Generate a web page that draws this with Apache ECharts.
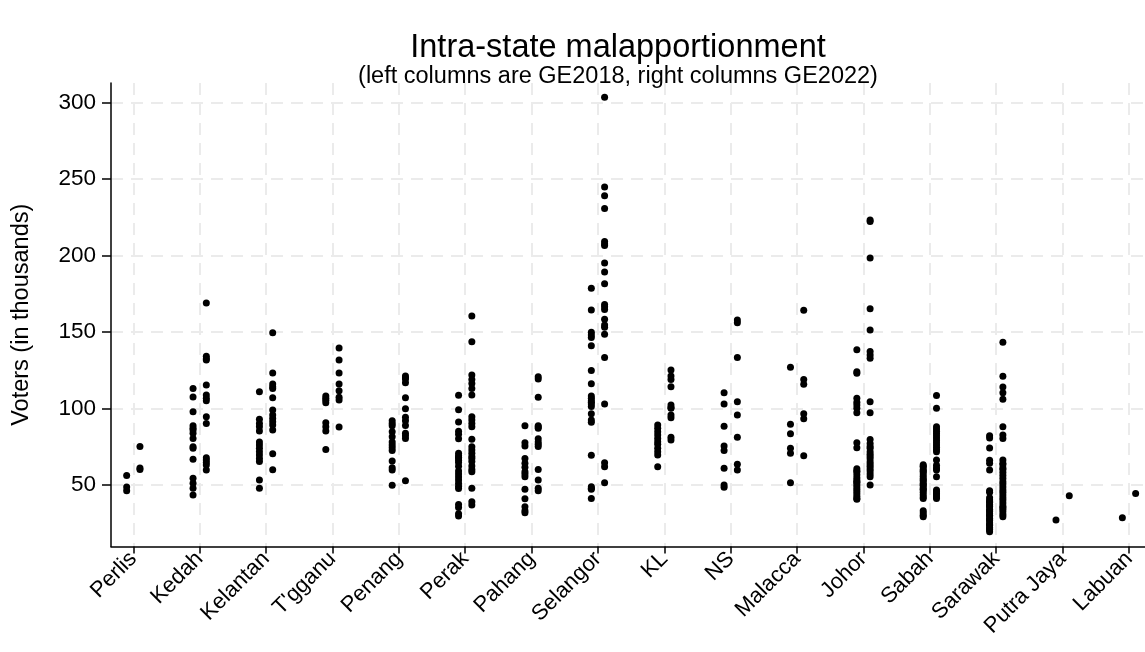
<!DOCTYPE html>
<html>
<head>
<meta charset="utf-8">
<script src="https://cdn.jsdelivr.net/npm/echarts@6/dist/echarts.min.js"></script>
<style>
  html, body { margin: 0; padding: 0; background: #fff; }
  #chart { width: 1145px; height: 652px; }
</style>
</head>
<body>
<div id="chart"></div>
<script>
const states = ['Perlis', 'Kedah', 'Kelantan', "T'gganu", 'Penang', 'Perak', 'Pahang', 'Selangor',
  'KL', 'NS', 'Malacca', 'Johor', 'Sabah', 'Sarawak', 'Putra Jaya', 'Labuan'];

const yTicks = [50, 100, 150, 200, 250, 300];

// voters per seat (thousands), one list per state
const ge2018 = [
  [56, 48.5, 46],
  [112.9, 107.4, 97.7, 88.5, 87, 85.8, 83.6, 80.3, 74.9, 73.8, 66.6, 54.2, 50.9, 47.6, 43.2],
  [110.9, 92.8, 90.1, 88, 85.1, 78, 75.9, 73.8, 71.6, 69.4, 67.2, 65.1, 53.1, 47.6],
  [108, 106.5, 105.2, 103.7, 90.6, 88, 85.1, 73.1],
  [91.9, 90.1, 88.6, 84.7, 81.4, 77.9, 76, 74.2, 72.3, 65.5, 61.1, 59.6, 49.6],
  [108.5, 99, 91, 85, 83, 80, 70.5, 69, 68, 67.5, 66, 64.5, 62, 59, 57, 55, 53, 51, 49, 47.5, 37, 35, 31, 29.5],
  [88.6, 77.5, 75.3, 67.2, 64, 61.4, 58.5, 57, 55.2, 47, 40.8, 35.6, 33, 31.7],
  [178.5, 164.3, 149.7, 147.9, 146.4, 140.9, 124.8, 116.1, 108, 106.5, 105, 104, 102.8, 101.1, 96.5, 92.3, 90.8, 69.2, 48.7, 47.6, 47, 41],
  [89, 86.9, 84.7, 82.5, 80.3, 78.1, 76.4, 73.8, 71.6, 69.4, 61.8],
  [110.2, 102.8, 88.2, 75.3, 72.3, 60.7, 49.8, 48.3],
  [126.8, 89.5, 83.4, 73.8, 70.5, 51.3],
  [138.4, 124, 122.9, 106.5, 104, 102.1, 100, 97.1, 77.5, 74.2, 60.5, 59, 58.5, 56.5, 54.5, 53, 52, 51.5, 50, 48.5, 47, 45.5, 44, 42.5, 41, 40.4],
  [63, 62, 61.5, 60, 59, 58.5, 57, 55.5, 54, 53, 52.5, 51, 50, 49.5, 48, 47, 46.5, 45, 43.5, 42, 41, 33, 31.5, 30, 29],
  [82, 80.5, 74, 66, 64, 59.6, 46, 45, 41.5, 40, 39, 38.5, 37, 36, 35.5, 34, 33, 32.5, 31, 30, 29.5, 28, 27, 26.5, 25, 24, 23.5, 22, 21, 20.5, 19.2],
  [26.9],
  [28.4]
];

const ge2022 = [
  [75, 61, 60],
  [168.9, 134, 132.5, 131.6, 115.2, 108.7, 106.5, 105, 94.5, 90.1, 67.7, 66.1, 64.5, 62.9, 59.6],
  [149.5, 123.1, 115.9, 114.1, 113, 106.9, 98.9, 95.6, 93.4, 91.2, 89, 85.8, 70.3, 59.8],
  [139.4, 131.6, 123.1, 115.9, 111.5, 107.2, 105.4, 87.7],
  [121.1, 120, 119.2, 116.8, 106.9, 99.7, 94.1, 91.9, 88.8, 83.6, 82, 80.3, 52.6],
  [160.4, 143.6, 121.8, 118.9, 116.3, 113, 108.7, 94.5, 92.3, 90.1, 88, 79.7, 74.9, 72.7, 70.5, 68.5, 67.2, 65.1, 62.2, 60, 58.5, 47.6, 38.9, 36.7],
  [120.7, 119.2, 107.2, 88.6, 87.8, 86.9, 80, 78, 76.5, 75, 60, 53.1, 47.6, 46.1],
  [303.5, 244.8, 239.1, 230.8, 209.2, 207.5, 206.6, 195.1, 189.2, 181.5, 168, 166.5, 164.7, 158.2, 154.5, 153, 148.4, 133.3, 102.8, 64.4, 61.8, 51.3],
  [125, 121.1, 118.9, 114.1, 102.1, 100.6, 100, 95.6, 93.8, 81, 79.2],
  [157.8, 156, 133.3, 104.3, 95.6, 81, 63.3, 59.6],
  [164.1, 118.9, 115.7, 96.5, 93.2, 69],
  [223.2, 222.3, 198.3, 165.2, 151.2, 137.1, 134.9, 132.7, 104.3, 97.1, 79.6, 77, 75, 73.8, 71.6, 70, 68.5, 67, 65, 63.5, 62, 60.5, 59, 57, 55.2, 49.8],
  [108.3, 100, 88, 86.5, 85, 83.5, 82, 80.5, 79, 77.5, 76, 74.5, 73, 71.6, 66.1, 62.8, 61, 59.6, 55.2, 46.5, 45.4, 44.3, 43.2, 42, 41],
  [143.2, 120.9, 114, 110.2, 106, 88, 82.5, 80.3, 66.1, 64, 63, 61, 60, 58, 56, 54, 52, 50.5, 48.5, 46.5, 45, 43.2, 41.5, 40, 38, 36, 35, 34, 32.3, 30.5, 29],
  [42.8],
  [44.3]
];

const stateIdx = states.map((s, i) => i);

function points(lists, offset) {
  const out = [];
  lists.forEach((vals, i) => vals.forEach((v) => out.push([i + offset, v])));
  return out;
}

const chart = echarts.init(document.getElementById('chart'));
const font = "'Liberation Sans', Arial, Helvetica, sans-serif";
const gridLine = { show: true, lineStyle: { color: '#ebebeb', width: 2, type: [12, 8] } };
const dot = { color: '#000', opacity: 1 };

chart.setOption({
  animation: false,
  textStyle: { fontFamily: font, color: '#000' },
  title: [
    {
      text: 'Intra-state malapportionment',
      left: 613, top: 27, textAlign: 'center',
      textStyle: { fontSize: 32.5, fontWeight: 'normal', color: '#000', fontFamily: font }
    },
    {
      text: '(left columns are GE2018, right columns GE2022)',
      left: 613, top: 60, textAlign: 'center',
      textStyle: { fontSize: 23.5, fontWeight: 'normal', color: '#000', fontFamily: font }
    }
  ],
  grid: { left: 111, right: 0, top: 83, bottom: 105.5, containLabel: false },
  xAxis: {
    type: 'value',
    min: -0.336,
    max: 15.241,
    axisLine: { show: true, onZero: false, lineStyle: { color: '#000', width: 1.5 } },
    axisTick: { show: true, customValues: stateIdx, length: 7, lineStyle: { color: '#000', width: 1.5 } },
    axisLabel: {
      customValues: stateIdx,
      formatter: (v) => states[Math.round(v)],
      rotate: 45,
      fontSize: 22,
      color: '#000',
      margin: 9,
      fontFamily: font
    },
    splitLine: gridLine
  },
  yAxis: {
    type: 'value',
    min: 9.55,
    max: 312.9,
    name: 'Voters (in thousands)',
    nameLocation: 'middle',
    nameGap: 77,
    nameTextStyle: { fontSize: 23.5, color: '#000', fontFamily: font },
    axisLine: { show: true, onZero: false, lineStyle: { color: '#000', width: 1.5 } },
    axisTick: { show: true, customValues: yTicks, length: 9, lineStyle: { color: '#000', width: 1.5 } },
    axisLabel: { customValues: yTicks, fontSize: 22.5, color: '#000', margin: 15, fontFamily: font },
    splitLine: gridLine
  },
  series: [
    {
      name: 'GE2018',
      type: 'scatter',
      symbolSize: 7,
      itemStyle: dot,
      data: points(ge2018, -0.1)
    },
    {
      name: 'GE2022',
      type: 'scatter',
      symbolSize: 7,
      itemStyle: dot,
      data: points(ge2022, 0.1)
    }
  ]
});
</script>
</body>
</html>
